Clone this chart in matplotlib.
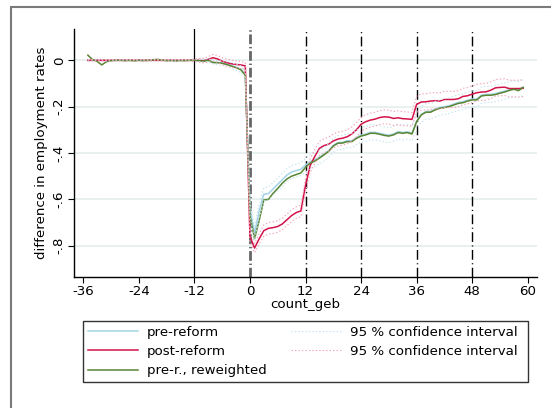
import matplotlib
matplotlib.use("Agg")
import matplotlib.pyplot as plt
from matplotlib.patches import Rectangle

plt.rcParams['font.family'] = 'DejaVu Sans'
plt.rcParams['lines.scale_dashes'] = False

# months relative to birth
months = list(range(-35, 60))

pre_reform = [
    0.000, 0.000, 0.000, 0.000, 0.000, 0.000, 0.000, 0.000, 0.000, 0.000, 0.000, 0.000,
    0.000, 0.000, 0.000, 0.000, 0.000, 0.000, 0.000, 0.000, 0.000, 0.000, 0.000,
    0.000, -0.001, -0.002, 0.000, -0.008, -0.010, -0.012, -0.017, -0.023, -0.030, -0.038, -0.060,
    -0.640, -0.745, -0.650, -0.578, -0.575, -0.555, -0.535, -0.515, -0.495, -0.482, -0.476, -0.470,
    -0.452, -0.437, -0.428, -0.418, -0.405, -0.390, -0.367, -0.355, -0.354, -0.347, -0.347, -0.333,
    -0.323, -0.318, -0.311, -0.311, -0.315, -0.320, -0.323, -0.318, -0.308, -0.311, -0.308, -0.314,
    -0.262, -0.233, -0.221, -0.220, -0.211, -0.204, -0.200, -0.196, -0.189, -0.182, -0.179, -0.172,
    -0.167, -0.167, -0.150, -0.147, -0.147, -0.144, -0.138, -0.133, -0.127, -0.123, -0.127, -0.116,
]

post_reform = [
    0.000, 0.000, 0.000, 0.000, 0.000, 0.000, 0.000, 0.000, 0.000, 0.000, 0.000, 0.000,
    0.000, 0.000, 0.000, 0.000, 0.000, 0.000, 0.000, 0.000, 0.000, 0.000, 0.000,
    0.000, 0.000, -0.002, 0.004, 0.011, 0.006, -0.004, -0.010, -0.015, -0.018, -0.020, -0.024,
    -0.760, -0.810, -0.770, -0.735, -0.725, -0.722, -0.717, -0.706, -0.688, -0.670, -0.657, -0.650,
    -0.540, -0.455, -0.415, -0.380, -0.368, -0.362, -0.348, -0.340, -0.336, -0.330, -0.318, -0.300,
    -0.276, -0.265, -0.258, -0.254, -0.247, -0.244, -0.245, -0.251, -0.248, -0.252, -0.253, -0.255,
    -0.190, -0.180, -0.179, -0.176, -0.174, -0.176, -0.169, -0.169, -0.169, -0.166, -0.156, -0.153,
    -0.146, -0.140, -0.137, -0.136, -0.129, -0.119, -0.117, -0.116, -0.122, -0.122, -0.122, -0.121,
]

reweighted = [
    0.022, 0.003, -0.005, -0.020, -0.006, -0.002, 0.000, 0.000, -0.002, 0.000, -0.003, 0.000,
    -0.002, 0.000, 0.002, 0.004, 0.001, -0.002, -0.001, -0.003, -0.001, -0.002, 0.000,
    0.000, -0.002, -0.004, 0.000, -0.010, -0.010, -0.013, -0.018, -0.025, -0.032, -0.040, -0.065,
    -0.670, -0.770, -0.690, -0.603, -0.600, -0.574, -0.553, -0.530, -0.512, -0.500, -0.493, -0.486,
    -0.462, -0.444, -0.435, -0.422, -0.408, -0.393, -0.370, -0.358, -0.357, -0.351, -0.351, -0.337,
    -0.327, -0.322, -0.315, -0.315, -0.319, -0.324, -0.327, -0.322, -0.312, -0.315, -0.312, -0.318,
    -0.265, -0.236, -0.224, -0.224, -0.214, -0.207, -0.204, -0.200, -0.193, -0.186, -0.183, -0.176,
    -0.171, -0.171, -0.154, -0.151, -0.151, -0.148, -0.142, -0.137, -0.130, -0.125, -0.131, -0.117,
]

# half widths of the 95% confidence intervals
ci_pre = [
    0.003, 0.003, 0.003, 0.003, 0.003, 0.003, 0.003, 0.003, 0.003, 0.003, 0.003, 0.003,
    0.003, 0.003, 0.003, 0.003, 0.003, 0.003, 0.003, 0.003, 0.003, 0.003, 0.003,
    0.004, 0.005, 0.006, 0.007, 0.008, 0.009, 0.010, 0.011, 0.012, 0.013, 0.014, 0.016,
    0.030, 0.030, 0.030, 0.028, 0.028, 0.028, 0.028, 0.028, 0.028, 0.028, 0.028, 0.028,
    0.030, 0.030, 0.030, 0.030, 0.030, 0.030, 0.030, 0.030, 0.030, 0.030, 0.030, 0.030,
    0.032, 0.032, 0.032, 0.032, 0.032, 0.032, 0.032, 0.032, 0.032, 0.032, 0.032, 0.032,
    0.034, 0.034, 0.034, 0.034, 0.034, 0.034, 0.034, 0.034, 0.034, 0.034, 0.034, 0.034,
    0.035, 0.035, 0.035, 0.035, 0.035, 0.035, 0.035, 0.035, 0.035, 0.035, 0.035, 0.035,
]

ci_post = [
    0.003, 0.003, 0.003, 0.003, 0.003, 0.003, 0.003, 0.003, 0.003, 0.003, 0.003, 0.003,
    0.003, 0.003, 0.003, 0.003, 0.003, 0.003, 0.003, 0.003, 0.003, 0.003, 0.003,
    0.006, 0.008, 0.010, 0.012, 0.014, 0.015, 0.015, 0.015, 0.015, 0.015, 0.015, 0.015,
    0.020, 0.020, 0.022, 0.025, 0.025, 0.025, 0.025, 0.025, 0.025, 0.025, 0.025, 0.025,
    0.030, 0.030, 0.030, 0.030, 0.030, 0.030, 0.030, 0.030, 0.030, 0.030, 0.030, 0.030,
    0.030, 0.030, 0.030, 0.030, 0.030, 0.030, 0.030, 0.030, 0.030, 0.030, 0.030, 0.030,
    0.035, 0.035, 0.035, 0.035, 0.035, 0.035, 0.035, 0.035, 0.035, 0.035, 0.035, 0.035,
    0.036, 0.036, 0.036, 0.036, 0.036, 0.036, 0.036, 0.036, 0.036, 0.036, 0.036, 0.036,
]

yticks = [0, -0.2, -0.4, -0.6, -0.8]
ytick_labels = ["0", "-.2", "-.4", "-.6", "-.8"]
xticks = [-36, -24, -12, 0, 12, 24, 36, 48, 60]

c_pre = "#a3d3e6"
c_post = "#d4124a"
c_rew = "#5a8532"
fs = 9.6

fig = plt.figure(figsize=(5.51, 4.08), dpi=100)
ax = fig.add_axes([74 / 551, 1 - 277 / 408, (537 - 74) / 551, (277 - 29) / 408])

ax.set_xlim(-38, 62)
ax.set_ylim(-0.935, 0.135)

ax.set_yticks(yticks)
ax.set_yticklabels(ytick_labels, rotation=90, va="center")
ax.set_xticks(xticks)
ax.set_xticklabels([str(t) for t in xticks])
ax.yaxis.grid(True, color="#e4eded", lw=1.2)
ax.set_axisbelow(True)

ax.axvline(-12, color="black", lw=0.9)
ax.axvline(0, color="#666666", lw=2.0, dashes=(7, 2, 1, 2))
for v in [12, 24, 36, 48]:
    ax.axvline(v, color="black", lw=1.0, dashes=(7, 2.5, 0.8, 2.5))

lo_pre = [v - h for v, h in zip(pre_reform, ci_pre)]
hi_pre = [v + h for v, h in zip(pre_reform, ci_pre)]
lo_post = [v - h for v, h in zip(post_reform, ci_post)]
hi_post = [v + h for v, h in zip(post_reform, ci_post)]

l1, = ax.plot(months, pre_reform, color=c_pre, lw=1.1)
l2, = ax.plot(months, post_reform, color=c_post, lw=1.1)
l3, = ax.plot(months, reweighted, color=c_rew, lw=1.1)
l4, = ax.plot(months, lo_pre, color="#c4e4ee", lw=0.8, dashes=(1, 1.5))
ax.plot(months, hi_pre, color="#c4e4ee", lw=0.8, dashes=(1, 1.5))
l5, = ax.plot(months, lo_post, color="#f2a3b6", lw=0.8, dashes=(1, 1.5))
ax.plot(months, hi_post, color="#f2a3b6", lw=0.8, dashes=(1, 1.5))

for s in ["top", "right"]:
    ax.spines[s].set_visible(False)
for s in ["left", "bottom"]:
    ax.spines[s].set_linewidth(1.0)
ax.tick_params(direction="out", length=4, width=0.8, labelsize=fs, pad=2)

ax.set_xlabel("count_geb", fontsize=fs, labelpad=0)
ax.set_ylabel("difference in employment rates", fontsize=fs, labelpad=3)

fig.legend(
    [l1, l2, l3, l4, l5],
    ["pre-reform", "post-reform", "pre-r., reweighted",
     "95 % confidence interval", "95 % confidence interval"],
    ncol=2, loc="upper left",
    bbox_to_anchor=(88 / 551, 1 - 326 / 408),
    fontsize=fs, frameon=False,
    handlelength=3.75, handletextpad=0.68, labelspacing=0.46,
    borderpad=0, borderaxespad=0, columnspacing=1.8,
)

# legend box and outer graph frame
fig.patches.append(Rectangle((83 / 551, 1 - 382 / 408), 445 / 551, 61 / 408,
                             transform=fig.transFigure, fill=False,
                             edgecolor="#333333", lw=1.0))
fig.patches.append(Rectangle((11 / 551, -0.5), 2, 1 - 7 / 408 + 0.5,
                             transform=fig.transFigure, fill=False,
                             edgecolor="#7a7a7a", lw=1.5))

fig.savefig("out.png", dpi=100)
